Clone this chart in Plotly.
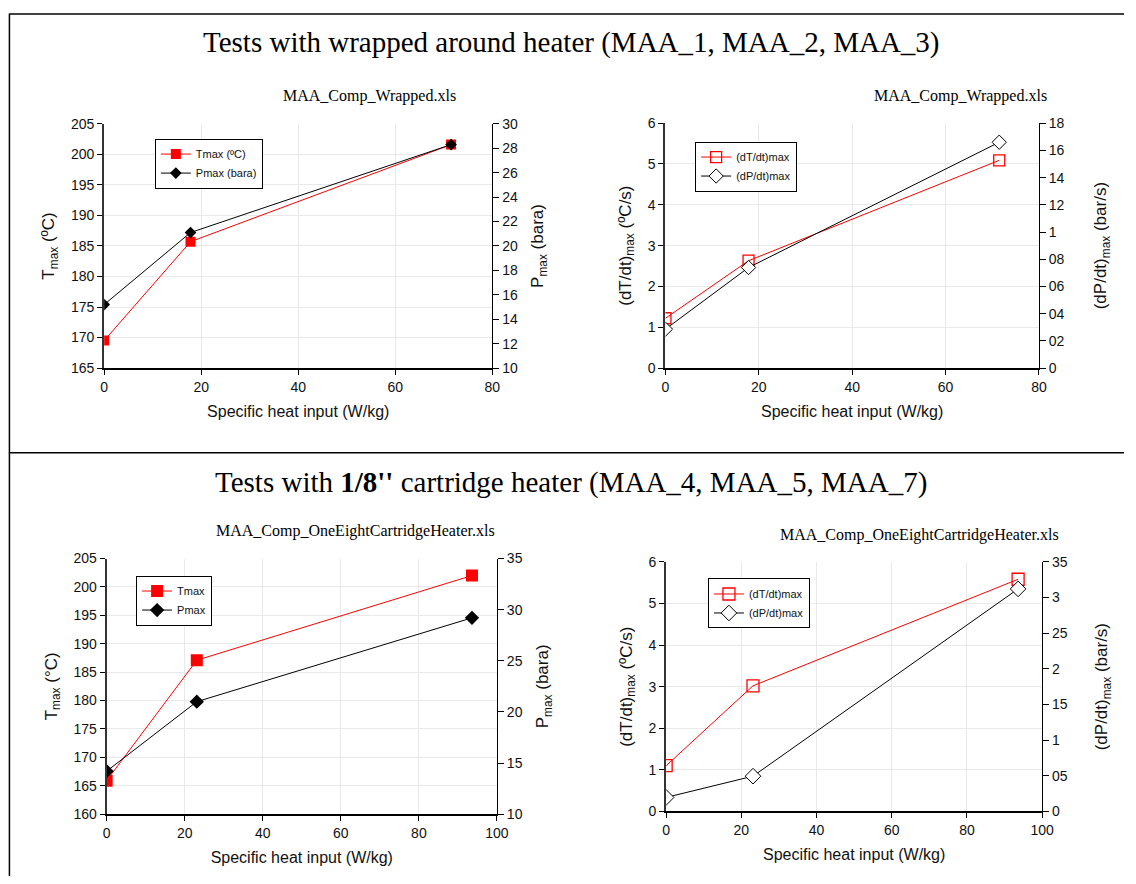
import plotly.graph_objects as go

W, H = 1136, 884

# ---------------- data ----------------
# Wrapped-around heater tests (MAA_1, MAA_2, MAA_3)
wr_heat = [0, 17.8, 71.5]
wr_tmax = [169.5, 185.7, 201.6]
wr_pmax = [15.2, 21.1, 28.3]
wr_dtdt = [1.22, 2.63, 5.09]
wr_dpdt = [0.286, 0.739, 1.66]

# 1/8" cartridge heater tests (MAA_4, MAA_5, MAA_7)
ct_heat = [0, 23.1, 93.6]
ct_tmax = [165.9, 187.1, 202.0]
ct_pmax = [14.2, 21.0, 29.2]
ct_dtdt = [1.10, 3.02, 5.58]
ct_dpdt = [0.197, 0.495, 3.12]

# tick labels for the secondary (rate of pressure) axes, as shown
wr_dp_tickvals = [0, 0.2, 0.4, 0.6, 0.8, 1.0, 1.2, 1.4, 1.6, 1.8]
wr_dp_ticktext = ["0", "02", "04", "06", "08", "1", "12", "14", "16", "18"]
ct_dp_tickvals = [0, 0.5, 1.0, 1.5, 2.0, 2.5, 3.0, 3.5]
ct_dp_ticktext = ["0", "05", "1", "15", "2", "25", "3", "35"]

RED = "#ff0000"
BLK = "#000000"
GRID = "#e9e9e9"
SANS = "Liberation Sans, Arial, sans-serif"
SERIF = "Liberation Serif, Times New Roman, serif"

fig = go.Figure()

def px2x(p):
    return p / W

def px2y(p):
    return 1 - p / H

# ---- top left ----
fig.add_trace(go.Scatter(x=wr_heat, y=wr_tmax, name="Tmax (ºC)", mode="lines+markers",
                         line=dict(color=RED, width=1), marker=dict(symbol="square", size=10, color=RED),
                         xaxis="x", yaxis="y", legend="legend"))
fig.add_trace(go.Scatter(x=wr_heat, y=wr_pmax, name="Pmax (bara)", mode="lines+markers",
                         line=dict(color=BLK, width=1), marker=dict(symbol="diamond", size=9, color=BLK),
                         xaxis="x", yaxis="y2", legend="legend"))
# ---- top right ----
fig.add_trace(go.Scatter(x=wr_heat, y=wr_dtdt, name="(dT/dt)max", mode="lines+markers",
                         line=dict(color=RED, width=1),
                         marker=dict(symbol="square-open", size=11, color=RED, line=dict(width=1.3)),
                         xaxis="x2", yaxis="y3", legend="legend2"))
fig.add_trace(go.Scatter(x=wr_heat, y=wr_dpdt, name="(dP/dt)max", mode="lines+markers",
                         line=dict(color=BLK, width=1),
                         marker=dict(symbol="diamond", size=11, color="white", line=dict(width=1, color=BLK)),
                         xaxis="x2", yaxis="y4", legend="legend2"))
# ---- bottom left ----
fig.add_trace(go.Scatter(x=ct_heat, y=ct_tmax, name="Tmax", mode="lines+markers",
                         line=dict(color=RED, width=1), marker=dict(symbol="square", size=12, color=RED),
                         xaxis="x3", yaxis="y5", legend="legend3"))
fig.add_trace(go.Scatter(x=ct_heat, y=ct_pmax, name="Pmax", mode="lines+markers",
                         line=dict(color=BLK, width=1), marker=dict(symbol="diamond", size=11, color=BLK),
                         xaxis="x3", yaxis="y6", legend="legend3"))
# ---- bottom right ----
fig.add_trace(go.Scatter(x=ct_heat, y=ct_dtdt, name="(dT/dt)max", mode="lines+markers",
                         line=dict(color=RED, width=1),
                         marker=dict(symbol="square-open", size=12, color=RED, line=dict(width=1.3)),
                         xaxis="x4", yaxis="y7", legend="legend4"))
fig.add_trace(go.Scatter(x=ct_heat, y=ct_dpdt, name="(dP/dt)max", mode="lines+markers",
                         line=dict(color=BLK, width=1),
                         marker=dict(symbol="diamond", size=12, color="white", line=dict(width=1, color=BLK)),
                         xaxis="x4", yaxis="y8", legend="legend4"))

tickfont = dict(family=SANS, size=14, color="#111")
titlefont = dict(family=SANS, size=16, color="#111")

def xaxis(dom, rng, dtick, anchor):
    return dict(domain=dom, range=rng, dtick=dtick, anchor=anchor, showgrid=True, gridcolor=GRID,
                zeroline=False, showline=True, linecolor=BLK, linewidth=1.5, ticks="outside",
                ticklen=5, tickcolor=BLK, tickfont=tickfont,
                title=dict(text="Specific heat input (W/kg)", font=titlefont, standoff=12))

def yleft(dom, rng, dtick, anchor, title):
    return dict(domain=dom, range=rng, dtick=dtick, anchor=anchor, showgrid=True, gridcolor=GRID,
                zeroline=False, showline=True, linecolor="#333", linewidth=2, ticks="outside",
                ticklen=5, tickcolor=BLK, tickfont=tickfont, mirror=False,
                title=dict(text=title, font=dict(family=SANS, size=17, color="#111"), standoff=12))

def yright(ov, anchor, rng, title, standoff, dtick=None, tickvals=None, ticktext=None):
    d = dict(overlaying=ov, anchor=anchor, side="right", range=rng, showgrid=False, zeroline=False,
             showline=True, linecolor=BLK, linewidth=1.2, ticks="outside", ticklen=6, tickcolor=BLK,
             tickfont=tickfont,
             title=dict(text=title, font=dict(family=SANS, size=17, color="#111"), standoff=standoff))
    if dtick is not None:
        d["dtick"] = dtick
    if tickvals is not None:
        d["tickmode"] = "array"
        d["tickvals"] = tickvals
        d["ticktext"] = ticktext
    return d

tl_x = [px2x(101.6), px2x(495.3)]
tl_y = [px2y(366.7), px2y(118)]
tr_x = [px2x(670.9), px2x(1049.7)]
tr_y = [px2y(366.7), px2y(117.3)]
bl_x = [px2x(104.1), px2x(500)]
bl_y = [px2y(821), px2y(560.7)]
br_x = [px2x(671.6), px2x(1053)]
br_y = [px2y(818.3), px2y(564)]

dtitle = "(dT/dt)<sub>max</sub> (ºC/s)"
ptitle = "(dP/dt)<sub>max</sub> (bar/s)"

def legend_box(x, y):
    return dict(x=x, y=y, xanchor="left", yanchor="top", xref="paper", yref="paper",
                bgcolor="white", bordercolor=BLK, borderwidth=1,
                font=dict(family=SANS, size=11, color="#111"),
                itemwidth=30, tracegroupgap=0)

fig.update_layout(
    width=W, height=H, margin=dict(l=0, r=0, t=0, b=0, pad=0),
    paper_bgcolor="white", plot_bgcolor="white", showlegend=True,
    xaxis=xaxis(tl_x, [0, 80], 20, "y"),
    yaxis=yleft(tl_y, [165, 205], 5, "x", "T<sub>max</sub> (ºC)"),
    yaxis2=yright("y", "x", [10, 30], "P<sub>max</sub> (bara)", 14, dtick=2),
    xaxis2=xaxis(tr_x, [0, 80], 20, "y3"),
    yaxis3=yleft(tr_y, [0, 6], 1, "x2", dtitle),
    yaxis4=yright("y3", "x2", [0, 1.8], ptitle, 30, tickvals=wr_dp_tickvals, ticktext=wr_dp_ticktext),
    xaxis3=xaxis(bl_x, [0, 100], 20, "y5"),
    yaxis5=yleft(bl_y, [160, 205], 5, "x3", "T<sub>max</sub> (°C)"),
    yaxis6=yright("y5", "x3", [10, 35], "P<sub>max</sub> (bara)", 14, dtick=5),
    xaxis4=xaxis(br_x, [0, 100], 20, "y7"),
    yaxis7=yleft(br_y, [0, 6], 1, "x4", dtitle),
    yaxis8=yright("y7", "x4", [0, 3.5], ptitle, 28, tickvals=ct_dp_tickvals, ticktext=ct_dp_ticktext),
    legend=legend_box(px2x(153), px2y(133)),
    legend2=legend_box(px2x(701), px2y(136)),
    legend3=legend_box(px2x(134), px2y(578)),
    legend4=legend_box(px2x(714), px2y(581)),
)

# frame lines (page decoration)
frame = dict(type="line", xref="paper", yref="paper", line=dict(color=BLK, width=1.5))
fig.add_shape(**frame, x0=px2x(5.5), x1=px2x(5.5), y0=0, y1=px2y(6))
fig.add_shape(**frame, x0=px2x(5), x1=1, y0=px2y(6), y1=px2y(6))
fig.add_shape(**frame, x0=px2x(5), x1=1, y0=px2y(453), y1=px2y(453))

def ann(text, x, y, size):
    fig.add_annotation(text=text, x=px2x(x), y=px2y(y), xref="paper", yref="paper",
                       showarrow=False, xanchor="center", yanchor="middle",
                       font=dict(family=SERIF, size=size, color=BLK))

ann("Tests with wrapped around heater (MAA_1, MAA_2, MAA_3)", 576, 35, 29)
ann("MAA_Comp_Wrapped.xls", 371, 90, 16)
ann("MAA_Comp_Wrapped.xls", 970, 90, 16)
ann("Tests with <b>1/8''</b> cartridge heater (MAA_4, MAA_5, MAA_7)", 575, 483, 29)
ann("MAA_Comp_OneEightCartridgeHeater.xls", 357, 533, 16)
ann("MAA_Comp_OneEightCartridgeHeater.xls", 929, 537, 16)

fig.write_html("out.html")
